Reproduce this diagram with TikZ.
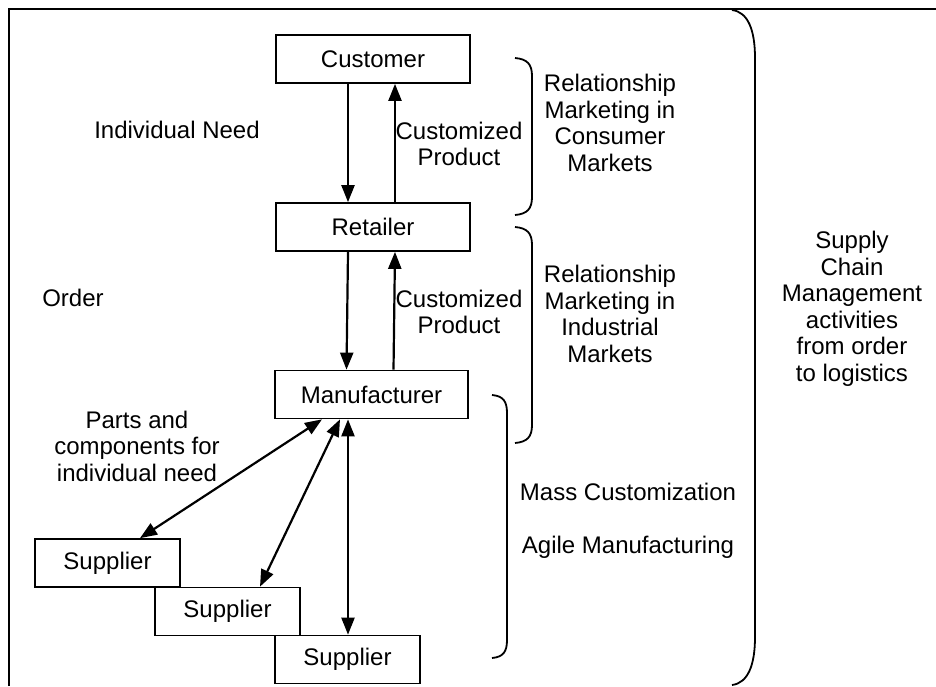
\documentclass[tikz,border=0pt]{standalone}
\usepackage{fontspec}
\setmainfont{Liberation Sans}
\usetikzlibrary{arrows.meta}

\begin{document}
\begin{tikzpicture}[x=1pt,y=-1pt,
  box/.style={draw,line width=1.7pt,inner sep=0pt,minimum height=48pt},
  lbl/.style={align=center,inner sep=0pt},
  arr/.style={line width=2.2pt,-{Triangle[length=17pt,width=13pt]}},
  darr/.style={line width=2.2pt,{Triangle[length=17pt,width=13pt]}-{Triangle[length=17pt,width=13pt]}},
  brk/.style={line width=1.8pt}]
\useasboundingbox (0,0) rectangle (936,686);
\fontsize{24}{26.5}\selectfont
\draw[line width=1.7pt] (9,686) -- (9,9) -- (936,9);
\node[box,minimum width=194pt](cust) at (373,59){Customer};
\node[box,minimum width=194pt](ret) at (373,227){Retailer};
\node[box,minimum width=193pt](man) at (371.5,394.5){Manufacturer};
\node[box,minimum width=145pt](sup1) at (107.5,563){Supplier};
\node[box,minimum width=145pt](sup2) at (227.5,611.5){Supplier};
\node[box,minimum width=145pt](sup3) at (347.5,659.5){Supplier};
\draw[arr] ([xshift=-25pt]cust.south) -- ([xshift=-25pt]ret.north);
\draw[arr] ([xshift=22pt]ret.north) -- ([xshift=22pt]cust.south);
\draw[arr] ([xshift=-25pt]ret.south) -- ([xshift=-25pt]man.north);
\draw[arr] ([xshift=22pt]man.north) -- ([xshift=22pt]ret.south);
\draw[darr] ([xshift=32.5pt]sup1.north) -- ([xshift=-49.5pt]man.south);
\draw[darr] ([xshift=32.5pt]sup2.north) -- ([xshift=-31.5pt]man.south);
\draw[darr] ([xshift=0.5pt]sup3.north) -- ([xshift=-23.5pt]man.south);
\node[lbl](need) at (177,130){Individual Need};
\node[lbl](order) at (73,298){Order};
\node[lbl](prod1) at (459,144){Customized\\Product};
\node[lbl](prod2) at (459,312){Customized\\Product};
\node[lbl](parts) at (137,446){Parts and\\components for\\individual need};
\node[lbl](rmc) at (610,123){Relationship\\Marketing in\\Consumer\\Markets};
\node[lbl](rmi) at (610,314){Relationship\\Marketing in\\Industrial\\Markets};
\node[lbl](mass) at (628,492){Mass Customization};
\node[lbl](agile) at (628,547){Agile Manufacturing};
\node[lbl](scm) at (852,309){Supply\\Chain\\Management\\activities\\from order\\to logistics};
% brackets
\draw[brk] (515,58) .. controls (527,59) and (532,64) .. (532,76) -- (532,197) .. controls (532,209) and (527,214) .. (515,215);
\draw[brk] (515,227) .. controls (527,228) and (532,233) .. (532,245) -- (532,425) .. controls (532,437) and (527,442) .. (515,443);
\draw[brk] (492,395) .. controls (503,396) and (507,401) .. (507,413) -- (507,640) .. controls (507,652) and (503,657) .. (492,658);
\draw[brk] (732,10) .. controls (748,12) and (755,30) .. (755,58) -- (755,637) .. controls (755,665) and (748,683) .. (732,685);
\end{tikzpicture}
\end{document}
